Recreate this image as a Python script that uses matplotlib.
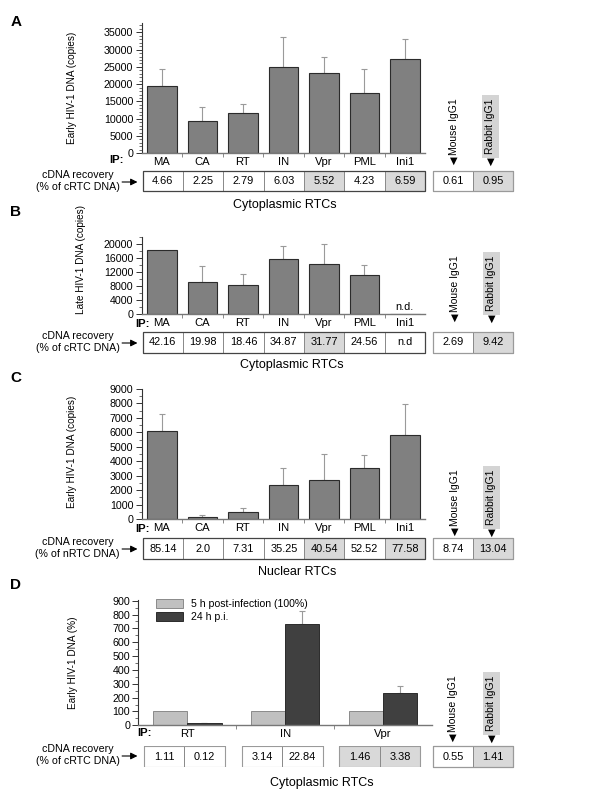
import matplotlib
matplotlib.use("Agg")
import matplotlib.pyplot as plt
from matplotlib.patches import Rectangle, FancyArrowPatch
from matplotlib.ticker import MultipleLocator, FixedLocator

plt.rcParams['font.family'] = ['Liberation Sans', 'DejaVu Sans']

# ---------------- data ----------------
ip_labels = ["MA", "CA", "RT", "IN", "Vpr", "PML", "Ini1"]

a_values = [19600, 9400, 11700, 25000, 23200, 17500, 27300]
a_err = [4700, 3900, 2500, 8600, 4800, 6800, 5700]
a_recovery = ["4.66", "2.25", "2.79", "6.03", "5.52", "4.23", "6.59"]
a_shaded = [False, False, False, False, True, False, True]
a_controls = ["0.61", "0.95"]

b_values = [18500, 9100, 8300, 15700, 14300, 11100, 0]
b_err = [0, 4600, 3100, 3700, 5900, 2900, 0]
b_recovery = ["42.16", "19.98", "18.46", "34.87", "31.77", "24.56", "n.d"]
b_shaded = [False, False, False, False, True, False, False]
b_controls = ["2.69", "9.42"]

c_values = [6070, 150, 500, 2330, 2680, 3500, 5840]
c_err = [1230, 100, 280, 1170, 1800, 930, 2110]
c_recovery = ["85.14", "2.0", "7.31", "35.25", "40.54", "52.52", "77.58"]
c_shaded = [False, False, False, False, True, False, True]
c_controls = ["8.74", "13.04"]

d_labels = ["RT", "IN", "Vpr"]
d_5h = [100, 100, 100]
d_24h = [15, 729, 232]
d_24h_err = [4, 96, 55]
d_recovery = [["1.11", "0.12"], ["3.14", "22.84"], ["1.46", "3.38"]]
d_shaded = [False, False, True]
d_controls = ["0.55", "1.41"]
control_labels = ["Mouse IgG1", "Rabbit IgG1"]

# ---------------- layout helpers ----------------
W, H = 600, 800
SX = 0.871  # horizontal scale of the layout measurements
fig = plt.figure(figsize=(6, 8), dpi=100)
FS_TICK = 7.7
FS_CAT = 8.1
FS_TAB = 7.9
FS_LAB = 7.7
FS_VERT = 7.5
FS_YLAB = 7.2
FS_TITLE = 9.0
BAR = '#808080'
SHADE = '#d9d9d9'
ERRC = '#9a9a9a'


def rect(l, t, r, b):
    return [l * SX / W, 1 - b / H, (r - l) * SX / W, (b - t) / H]


def fx(x):
    return x * SX / W


def fy(y):
    return 1 - y / H


def style_axes(ax, ymax, major, minor, n):
    ax.set_ylim(0, ymax)
    ax.set_xlim(-0.5, n - 0.5)
    for s in ['top', 'right']:
        ax.spines[s].set_visible(False)
    ax.spines['left'].set_color('#333333')
    ax.spines['left'].set_linewidth(0.8)
    ax.spines['bottom'].set_color('#777777')
    ax.spines['bottom'].set_linewidth(1.0)
    ax.yaxis.set_major_locator(MultipleLocator(major))
    ax.yaxis.set_minor_locator(MultipleLocator(minor))
    ax.tick_params(axis='y', which='major', length=4, width=0.7, labelsize=FS_TICK, pad=2,
                   color='#333333')
    ax.tick_params(axis='y', which='minor', length=2, width=0.6, color='#555555')
    ax.set_xticks(range(n))
    ax.xaxis.set_minor_locator(FixedLocator([i + 0.5 for i in range(n - 1)]))
    ax.tick_params(axis='x', which='major', length=0, labelsize=FS_CAT, pad=3)
    ax.tick_params(axis='x', which='minor', length=3, width=0.6, color='#777777')


def bar_panel(rect_px, values, errs, ymax, major, minor):
    ax = fig.add_axes(rect(*rect_px))
    x = list(range(len(values)))
    ax.bar(x, values, width=0.73, color=BAR, edgecolor='#2b2b2b', linewidth=0.8, zorder=2)
    for xi, v, e in zip(x, values, errs):
        if e > 0:
            ax.errorbar([xi], [v], yerr=[[0], [e]], fmt='none', ecolor=ERRC,
                        elinewidth=0.8, capsize=2.5, capthick=0.8, zorder=1)
    style_axes(ax, ymax, major, minor, len(values))
    ax.set_xticklabels(ip_labels)
    return ax


def table(rect_px, texts, shaded, edge='#444444'):
    tax = fig.add_axes(rect(*rect_px))
    tax.set_xlim(-0.5, len(texts) - 0.5)
    tax.set_ylim(0, 1)
    tax.axis('off')
    for i, (t, s) in enumerate(zip(texts, shaded)):
        tax.add_patch(Rectangle((i - 0.5, 0), 1, 1, facecolor=SHADE if s else 'white',
                                edgecolor='#8a8a8a', linewidth=0.7, clip_on=False))
        tax.text(i, 0.5, t, ha='center', va='center', fontsize=FS_TAB)
    tax.add_patch(Rectangle((-0.5, 0), len(texts), 1, facecolor='none',
                            edgecolor=edge, linewidth=0.9, clip_on=False))
    return tax


def recovery_label(y, txt):
    fig.text(fx(89), fy(y), "cDNA recovery\n" + txt, ha='center', va='center',
             fontsize=FS_LAB, linespacing=1.15)
    fig.add_artist(FancyArrowPatch(
        (fx(137), fy(y + 1)), (fx(161), fy(y + 1)), transform=fig.transFigure,
        arrowstyle='-|>,head_length=4,head_width=2', mutation_scale=1, lw=0.8, color='black'))


def controls(x_mouse, x_rabbit, y_tri, t_table, b_table, vals):
    table((497, t_table, 589, b_table), vals, [False, True], edge='#9a9a9a')
    fig.text(fx(x_mouse), fy(y_tri - 6), control_labels[0], rotation=90,
             ha='center', va='bottom', fontsize=FS_VERT)
    fig.text(fx(x_mouse), fy(y_tri), '\u25BC', ha='center', va='center',
             fontsize=7, family='DejaVu Sans')
    fig.text(fx(x_rabbit), fy(y_tri - 7), control_labels[1], rotation=90,
             ha='center', va='bottom', fontsize=FS_VERT,
             bbox=dict(boxstyle='square,pad=0.35', facecolor='#d4d4d4', edgecolor='none'))
    fig.text(fx(x_rabbit), fy(y_tri + 1), '\u25BC', ha='center', va='center',
             fontsize=7, family='DejaVu Sans')


def panel_letter(y, letter):
    fig.text(fx(12), fy(y), letter, ha='left', va='center', fontsize=11, fontweight='bold')


def ylabel_at(ax, text, x_px, frac, left_px, right_px):
    ax.set_ylabel(text, fontsize=FS_YLAB)
    ax.yaxis.set_label_coords((x_px - left_px) / (right_px - left_px), frac)


def ip_tag(x, y):
    fig.text(fx(x), fy(y), "IP:", ha='center', va='center', fontsize=FS_CAT, fontweight='bold')


# ---------------- Panel A ----------------
panel_letter(22, 'A')
axA = bar_panel((162.6, 22.7, 488, 153.3), a_values, a_err, 37800, 5000, 1000)
ylabel_at(axA, "Early HIV-1 DNA (copies)", 88, 0.5, 162.6, 488)
ip_tag(134, 160)
table((163.8, 171, 488, 191), a_recovery, a_shaded)
recovery_label(181, "(% of cRTC DNA)")
controls(521, 563, 161, 171, 191, a_controls)
fig.text(fx(327), fy(205), "Cytoplasmic RTCs", ha='center', va='center', fontsize=FS_TITLE)

# ---------------- Panel B ----------------
panel_letter(212, 'B')
axB = bar_panel((162.6, 237.3, 488, 314), b_values, b_err, 22000, 4000, 2000)
ylabel_at(axB, "Late HIV-1 DNA (copies)", 99, 0.71, 162.6, 488)
axB.text(6, 600, "n.d.", ha='center', va='bottom', fontsize=FS_TAB)
ip_tag(164, 324)
table((163.8, 332, 488, 353), b_recovery, b_shaded)
recovery_label(342, "(% of cRTC DNA)")
controls(522, 564, 318, 332, 353, b_controls)
fig.text(fx(335), fy(365), "Cytoplasmic RTCs", ha='center', va='center', fontsize=FS_TITLE)

# ---------------- Panel C ----------------
panel_letter(378, 'C')
axC = bar_panel((162.6, 389, 488, 519), c_values, c_err, 9000, 1000, 500)
ylabel_at(axC, "Early HIV-1 DNA (copies)", 88, 0.52, 162.6, 488)
ip_tag(164, 529)
table((163.8, 538, 488, 559), c_recovery, c_shaded)
recovery_label(548, "(% of nRTC DNA)")
controls(522, 564, 532, 538, 559, c_controls)
fig.text(fx(341), fy(572), "Nuclear RTCs", ha='center', va='center', fontsize=FS_TITLE)

# ---------------- Panel D ----------------
panel_letter(585, 'D')
axD = fig.add_axes(rect(159, 600, 495.6, 725.3))
xd = list(range(len(d_labels)))
w = 0.35
axD.bar([x - w / 2 for x in xd], d_5h, width=w, color='#c0c0c0', edgecolor='#8a8a8a',
        linewidth=0.7, label="5 h post-infection (100%)", zorder=2)
axD.bar([x + w / 2 for x in xd], d_24h, width=w, color='#404040', edgecolor='#2b2b2b',
        linewidth=0.7, label="24 h p.i.", zorder=2)
axD.errorbar([x + w / 2 for x in xd], d_24h, yerr=[[0] * 3, d_24h_err], fmt='none',
             ecolor=ERRC, elinewidth=0.8, capsize=2.5, capthick=0.8, zorder=1)
style_axes(axD, 905, 100, 50, 3)
axD.set_xticklabels(d_labels)
ylabel_at(axD, "Early HIV-1 DNA (%)", 89, 0.5, 159, 495.6)
axD.legend(frameon=False, loc='upper left', bbox_to_anchor=(20 / 336.6, 1.01),
           fontsize=7.6, handlelength=2.6, handleheight=0.9, labelspacing=0.35,
           handletextpad=0.7, borderpad=0, borderaxespad=0)
ip_tag(166, 733)

tD = fig.add_axes(rect(159, 746, 495.6, 767))
tD.set_xlim(-0.5, 2.5)
tD.set_ylim(0, 1)
tD.axis('off')
for g, (pair, s) in enumerate(zip(d_recovery, d_shaded)):
    left = g - 0.445
    cw = 0.415
    for k, t in enumerate(pair):
        tD.add_patch(Rectangle((left + k * cw, 0), cw, 1, facecolor=SHADE if s else 'white',
                               edgecolor='#8a8a8a', linewidth=0.7))
        tD.text(left + k * cw + cw / 2, 0.5, t, ha='center', va='center', fontsize=FS_TAB)
    tD.add_patch(Rectangle((left, 0), 2 * cw, 1, facecolor='none', edgecolor='#9a9a9a', linewidth=0.8))
recovery_label(755, "(% of cRTC DNA)")
controls(520, 564, 738, 746, 767, d_controls)
fig.text(fx(370), fy(783), "Cytoplasmic RTCs", ha='center', va='center', fontsize=FS_TITLE)

fig.savefig("out.png", dpi=100)
